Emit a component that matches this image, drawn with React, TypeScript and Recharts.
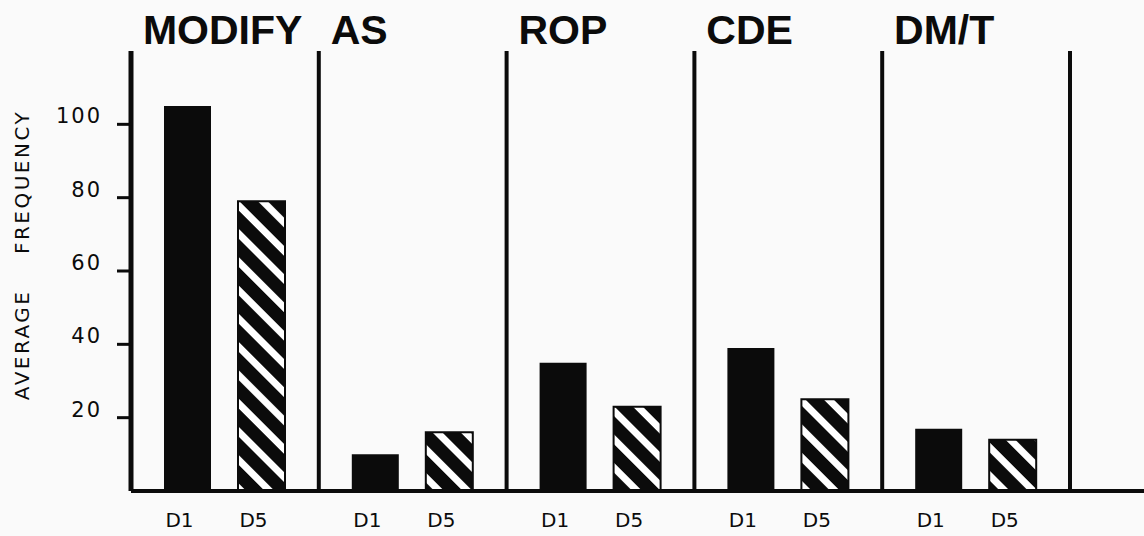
import { BarChart, Bar, XAxis, YAxis, ReferenceLine, LabelList } from "recharts";

const groups = ["MODIFY", "AS", "ROP", "CDE", "DM/T"];
const d1Values = [105, 10, 35, 39, 17];
const d5Values = [79, 16, 23, 25, 14];
const seriesNames = ["D1", "D5"];
const yTicks = [20, 40, 60, 80, 100];
const yTitleParts = ["AVERAGE", "FREQUENCY"];

const INK = "#0b0b0b";
const PAPER = "#fafafa";
const PLOT_FONT = "'DejaVu Sans', sans-serif";
const TAIL = 74; // baseline runs on past the last panel

const data = groups.map((name, i) => ({ name, d1: d1Values[i], d5: d5Values[i] }));

const TitleTick = ({ x, y, payload }: any) => (
  <text
    x={x - 82}
    y={y + 1}
    textAnchor="start"
    fill={INK}
    fontSize={41}
    fontWeight="bold"
    fontFamily="'Liberation Sans', Arial, sans-serif"
  >
    {payload.value}
  </text>
);

const ValueTick = ({ x, y, payload }: any) => (
  <text
    x={x}
    y={y}
    dy={-8}
    textAnchor="end"
    dominantBaseline="central"
    fill={INK}
    fontSize={21}
    letterSpacing={2}
    fontFamily={PLOT_FONT}
  >
    {payload.value}
  </text>
);

// D1 / D5 under each bar
const seriesLabel = (text: string) => (p: any) => (
  <text
    x={p.x + p.width / 2 - 8}
    y={p.y + p.height + 36}
    textAnchor="middle"
    fill={INK}
    fontSize={20}
    fontFamily={PLOT_FONT}
  >
    {text}
  </text>
);

const YTitle = () => (
  <text
    x={22}
    y={255}
    transform="rotate(-90, 22, 255)"
    textAnchor="middle"
    dominantBaseline="central"
    fill={INK}
    fontSize={20}
    letterSpacing={2.5}
    fontFamily={PLOT_FONT}
    style={{ whiteSpace: "pre" }}
  >
    {yTitleParts.join("    ")}
  </text>
);

export default function App() {
  return (
    <div style={{ position: "absolute", left: 0, top: 0, width: 1144, height: 536, background: PAPER }}>
      <BarChart
        width={1144}
        height={536}
        data={data}
        margin={{ top: 11, right: 0, left: 0, bottom: 44 }}
        barSize={47}
        barGap={27}
      >
        <defs>
          <pattern id="hatch" patternUnits="userSpaceOnUse" width={20} height={20} patternTransform="rotate(-45)">
            <rect width={20} height={20} fill={INK} />
            <rect x={0} width={7} height={20} fill="#ffffff" />
          </pattern>
        </defs>
        <XAxis
          xAxisId="cat"
          dataKey="name"
          orientation="top"
          height={40}
          padding={{ left: 0, right: TAIL }}
          axisLine={false}
          tickLine={false}
          interval={0}
          tick={<TitleTick />}
        />
        <XAxis
          xAxisId="base"
          dataKey="name"
          orientation="bottom"
          height={1}
          padding={{ left: 0, right: TAIL }}
          tick={false}
          tickLine={false}
          axisLine={{ stroke: INK, strokeWidth: 4 }}
        />
        <YAxis
          width={131}
          domain={[0, 120]}
          ticks={yTicks}
          tickSize={14}
          tickMargin={15}
          axisLine={{ stroke: INK, strokeWidth: 5 }}
          tickLine={{ stroke: INK, strokeWidth: 3 }}
          tick={<ValueTick />}
          label={{ content: () => <YTitle /> }}
        />
        {groups.map((g) => (
          <ReferenceLine key={g} xAxisId="cat" x={g} position="end" stroke={INK} strokeWidth={4} />
        ))}
        <ReferenceLine xAxisId="cat" y={0} stroke={INK} strokeWidth={4} />
        <Bar xAxisId="cat" dataKey="d1" fill={INK} isAnimationActive={false}>
          <LabelList dataKey="d1" content={seriesLabel(seriesNames[0])} />
        </Bar>
        <Bar xAxisId="cat" dataKey="d5" fill="url(#hatch)" stroke={INK} strokeWidth={2} isAnimationActive={false}>
          <LabelList dataKey="d5" content={seriesLabel(seriesNames[1])} />
        </Bar>
      </BarChart>
    </div>
  );
}
